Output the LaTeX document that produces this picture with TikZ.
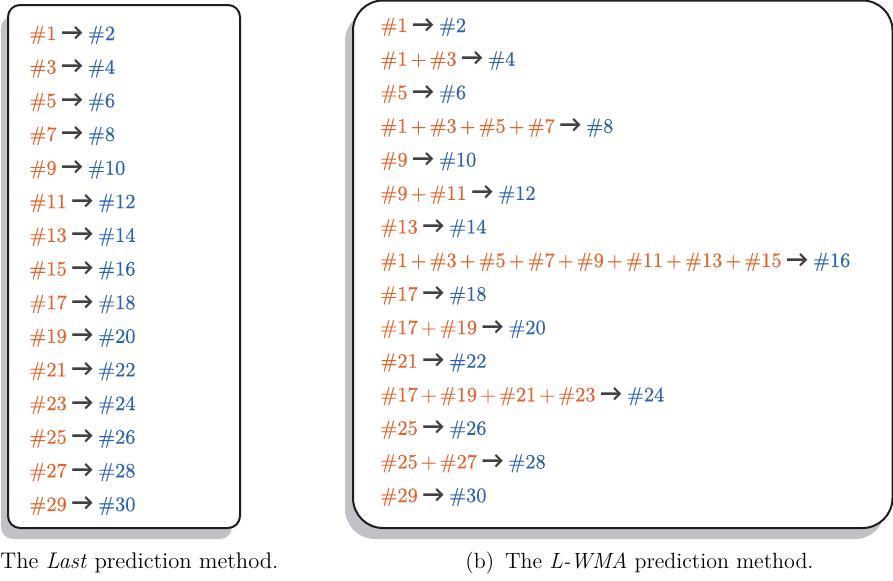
\documentclass[tikz,border=0pt]{standalone}
\usepackage{fontspec}
\newfontfamily\arrowfont{Carlito}
\newfontfamily\rowfont{Latin Modern Roman}[FakeBold=0.35]
\definecolor{srcorange}{RGB}{226,98,42}
\definecolor{dstblue}{RGB}{44,96,176}
\definecolor{arrowgray}{RGB}{64,64,64}
\definecolor{shadowgray}{RGB}{192,194,197}
\definecolor{framecol}{RGB}{30,30,30}
\newcommand{\src}[1]{\textcolor{srcorange}{#1}}
\newcommand{\dst}[1]{\textcolor{dstblue}{#1}}
\newcommand{\pl}{\src{\hspace{1.5pt}+\hspace{1.5pt}}}
\newcommand{\goesto}{\hspace{2.4pt}{\arrowfont\bfseries\fontsize{12}{12}\selectfont\textcolor{arrowgray}{→}}\hspace{2.4pt}}
\begin{document}
\begin{tikzpicture}[x=0.5pt,y=-0.5pt,
  panel/.style={draw=framecol,line width=1pt,fill=white},
  shade/.style={fill=shadowgray},
  row/.style={anchor=base west,inner sep=0pt,font=\rowfont\fontsize{10.2}{12}\selectfont},
  captext/.style={anchor=base west,inner sep=0pt,font=\fontsize{11.3}{13}\selectfont}]
\useasboundingbox (0,0) rectangle (893,580);
% shadows
\fill[shade,rounded corners=6pt] (1,16) rectangle (232,539);
\fill[shade,rounded corners=15pt] (345,11) rectangle (885,539);
% frames
\draw[panel,rounded corners=6pt] (8,5) rectangle (240,528);
\draw[panel,rounded corners=15pt] (353,0.5) rectangle (892.5,528);
% left panel: Last
\foreach \a/\b [count=\i from 0] in {1/2,3/4,5/6,7/8,9/10,11/12,13/14,15/16,17/18,19/20,21/22,23/24,25/26,27/28,29/30}
  \node[row] (L\b) at (29,{40+33.64*\i}) {\src{\#\a}\goesto\dst{\#\b}};
% right panel: L-WMA
\node[row] (R2)  at (380,32.0)  {\src{\#1}\goesto\dst{\#2}};
\node[row] (R4)  at (380,65.6)  {\src{\#1}\pl\src{\#3}\goesto\dst{\#4}};
\node[row] (R6)  at (380,99.1)  {\src{\#5}\goesto\dst{\#6}};
\node[row] (R8)  at (380,132.7) {\src{\#1}\pl\src{\#3}\pl\src{\#5}\pl\src{\#7}\goesto\dst{\#8}};
\node[row] (R10) at (380,166.3) {\src{\#9}\goesto\dst{\#10}};
\node[row] (R12) at (380,199.9) {\src{\#9}\pl\src{\#11}\goesto\dst{\#12}};
\node[row] (R14) at (380,233.4) {\src{\#13}\goesto\dst{\#14}};
\node[row] (R16) at (380,267.0) {\src{\#1}\pl\src{\#3}\pl\src{\#5}\pl\src{\#7}\pl\src{\#9}\pl\src{\#11}\pl\src{\#13}\pl\src{\#15}\goesto\dst{\#16}};
\node[row] (R18) at (380,300.6) {\src{\#17}\goesto\dst{\#18}};
\node[row] (R20) at (380,334.1) {\src{\#17}\pl\src{\#19}\goesto\dst{\#20}};
\node[row] (R22) at (380,367.7) {\src{\#21}\goesto\dst{\#22}};
\node[row] (R24) at (380,401.3) {\src{\#17}\pl\src{\#19}\pl\src{\#21}\pl\src{\#23}\goesto\dst{\#24}};
\node[row] (R26) at (380,434.8) {\src{\#25}\goesto\dst{\#26}};
\node[row] (R28) at (380,468.4) {\src{\#25}\pl\src{\#27}\goesto\dst{\#28}};
\node[row] (R30) at (380,502.0) {\src{\#29}\goesto\dst{\#30}};
% captions
\node[captext] (capL) at (0,568) {The \textit{Last} prediction method.};
\node[captext,font=\fontsize{11}{13}\selectfont] (capR) at (465,568) {(b)\enspace The \textit{L-WMA} prediction method.};
\end{tikzpicture}
\end{document}
